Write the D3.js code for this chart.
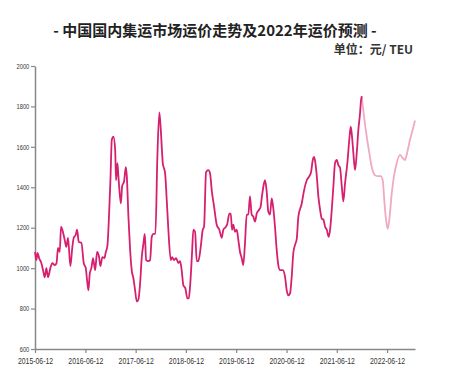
<!DOCTYPE html>
<html><head><meta charset="utf-8">
<script src="https://cdn.jsdelivr.net/npm/d3@7"></script>
<style>
html,body{margin:0;padding:0;background:#fff;}
svg{display:block;}
</style></head>
<body><svg id="chart" width="450" height="381"></svg>
<script>
const title = "- 中国国内集运市场运价走势及2022年运价预测 -";
const unitLabel = "单位：元/ TEU";
// decimal-year dates and freight rate values (元/TEU)
const actualDates = [2015.445,2015.471,2015.495,2015.525,2015.570,2015.604,2015.638,2015.670,2015.703,2015.749,2015.789,2015.837,2015.872,2015.902,2015.936,2015.962,2015.988,2016.035,2016.067,2016.101,2016.147,2016.187,2016.214,2016.254,2016.280,2016.314,2016.366,2016.413,2016.453,2016.479,2016.505,2016.533,2016.564,2016.598,2016.638,2016.678,2016.717,2016.743,2016.783,2016.823,2016.851,2016.882,2016.916,2016.942,2016.970,2017.002,2017.036,2017.055,2017.081,2017.101,2017.149,2017.175,2017.214,2017.248,2017.268,2017.300,2017.334,2017.368,2017.399,2017.433,2017.467,2017.499,2017.533,2017.566,2017.598,2017.626,2017.652,2017.698,2017.731,2017.765,2017.797,2017.837,2017.876,2017.916,2017.944,2017.984,2018.030,2018.063,2018.095,2018.143,2018.169,2018.209,2018.248,2018.294,2018.328,2018.362,2018.393,2018.433,2018.473,2018.501,2018.527,2018.566,2018.592,2018.626,2018.660,2018.692,2018.739,2018.779,2018.805,2018.845,2018.890,2018.924,2018.958,2019.004,2019.057,2019.109,2019.157,2019.189,2019.242,2019.268,2019.308,2019.336,2019.362,2019.387,2019.421,2019.455,2019.487,2019.521,2019.554,2019.586,2019.620,2019.654,2019.686,2019.719,2019.753,2019.785,2019.819,2019.853,2019.904,2019.932,2019.952,2019.998,2020.018,2020.051,2020.083,2020.117,2020.151,2020.183,2020.216,2020.250,2020.282,2020.316,2020.370,2020.415,2020.449,2020.481,2020.515,2020.548,2020.580,2020.614,2020.648,2020.680,2020.747,2020.793,2020.847,2020.898,2020.932,2020.966,2020.992,2021.018,2021.046,2021.077,2021.111,2021.145,2021.177,2021.211,2021.244,2021.284,2021.310,2021.344,2021.376,2021.409,2021.443,2021.475,2021.509,2021.543,2021.574,2021.608,2021.654,2021.694,2021.721,2021.747,2021.773,2021.807,2021.841,2021.873,2021.906,2021.926,2021.940];
const actualValues = [1080,1040,1075,1050,1025,990,955,1000,955,1000,1025,1015,1025,1100,1080,1205,1190,1140,1105,1150,1010,1105,1150,1165,1190,1130,1125,1025,1000,940,890,975,1000,1050,990,1080,1055,1010,1055,1050,1080,1110,1270,1435,1635,1650,1585,1435,1520,1455,1320,1405,1430,1500,1455,1255,1090,985,950,890,835,845,925,1055,1120,1170,1040,1035,1040,1155,1170,1170,1550,1770,1685,1520,1470,1335,1190,1040,1055,1040,1050,1025,1035,985,915,900,850,850,910,1075,1190,1180,1035,1035,1105,1190,1205,1475,1485,1470,1385,1305,1215,1190,1150,1190,1205,1220,1270,1270,1190,1215,1180,1190,1140,1080,1050,1015,1125,1265,1265,1355,1265,1255,1230,1270,1290,1305,1345,1420,1435,1380,1280,1265,1345,1295,1205,1090,1015,990,990,958,890,865,875,958,1075,1115,1145,1255,1320,1385,1435,1455,1475,1535,1550,1520,1455,1355,1290,1245,1240,1205,1190,1155,1190,1290,1405,1520,1535,1510,1495,1405,1330,1420,1520,1640,1700,1650,1570,1485,1570,1685,1765,1830,1850];
const forecastDates = [2021.940,2021.986,2022.040,2022.091,2022.139,2022.205,2022.270,2022.318,2022.358,2022.389,2022.423,2022.457,2022.489,2022.537,2022.582,2022.636,2022.702,2022.755,2022.801,2022.847,2022.900,2022.954,2023.000];
const forecastValues = [1850,1750,1650,1570,1500,1460,1455,1455,1435,1335,1240,1195,1240,1370,1455,1520,1560,1545,1535,1575,1635,1685,1730];
const xTickLabels = ["2015-06-12","2016-06-12","2017-06-12","2018-06-12","2019-06-12","2020-06-12","2021-06-12","2022-06-12"];
const yTicks = [600,800,1000,1200,1400,1600,1800,2000];

function decToDate(t){
  const y = Math.floor(t);
  const s = new Date(y,0,1).getTime(), e = new Date(y+1,0,1).getTime();
  return new Date(s + (t-y)*(e-s));
}
const parse = d3.timeParse("%Y-%m-%d");

const svg = d3.select("#chart");
const x = d3.scaleTime().domain([parse("2015-06-12"), decToDate(2023.0)]).range([35, 415]);
const y = d3.scaleLinear().domain([600, 2000]).range([349, 66]);

const actual = actualDates.map((d,i)=>({date:decToDate(d), v:actualValues[i]}));
const forecast = forecastDates.map((d,i)=>({date:decToDate(d), v:forecastValues[i]}));

// title
svg.append("text").attr("x",215).attr("y",36).attr("text-anchor","middle")
  .style("font-family","'Noto Sans CJK SC','Noto Sans',sans-serif").style("font-weight","bold")
  .style("font-size","15px").attr("fill","#222").text(title);
svg.append("text").attr("x",413).attr("y",54).attr("text-anchor","end")
  .style("font-family","'Noto Sans CJK SC','Noto Sans',sans-serif").style("font-weight","bold")
  .style("font-size","12px").attr("fill","#333").text(unitLabel);

// axes
const xAxis = d3.axisBottom(x).tickValues(xTickLabels.map(parse))
  .tickFormat((d,i)=>xTickLabels[i]).tickSize(4).tickSizeOuter(0);
const gx = svg.append("g").attr("transform","translate(0,349)").call(xAxis);
gx.select(".domain").attr("stroke","#888").attr("stroke-width",1.5);
gx.selectAll(".tick line").attr("stroke","#888").attr("stroke-width",1.2);
gx.selectAll("text").attr("fill","#333").attr("y",7).attr("dy","0.9em")
  .attr("transform","scale(0.8,1)")
  .style("font-family","'Liberation Sans',Arial,sans-serif")
  .style("font-size","8.6px");

const yAxis = d3.axisLeft(y).tickValues(yTicks).tickFormat(d3.format("d"))
  .tickSize(4).tickSizeOuter(0).tickPadding(3);
const gy = svg.append("g").attr("transform","translate(35,0)").call(yAxis);
gy.select(".domain").attr("stroke","#888").attr("stroke-width",1.5);
gy.selectAll(".tick line").attr("stroke","#888").attr("stroke-width",1.2);
gy.selectAll("text").attr("fill","#333")
  .attr("transform","scale(0.82,1)")
  .style("font-family","'Liberation Sans',Arial,sans-serif")
  .style("font-size","7px");

const line = d3.line().x(d=>x(d.date)).y(d=>y(d.v)).curve(d3.curveMonotoneX);
svg.append("path").datum(forecast).attr("d",line).attr("fill","none")
  .attr("stroke","#f0a9c4").attr("stroke-width",1.8).attr("stroke-linejoin","round");
svg.append("path").datum(actual).attr("d",line).attr("fill","none")
  .attr("stroke","#d61f6e").attr("stroke-width",1.8).attr("stroke-linejoin","round");
</script></body></html>
